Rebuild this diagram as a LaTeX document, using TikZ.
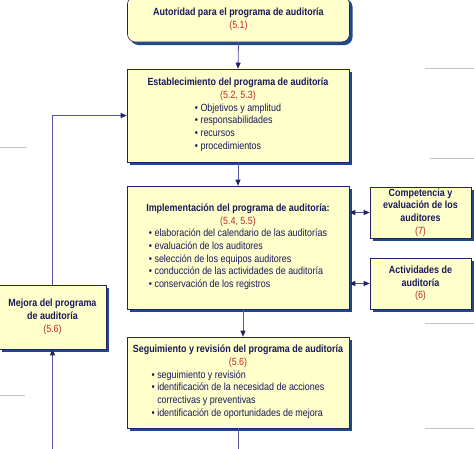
\documentclass[tikz,border=0pt]{standalone}
\usepackage{fontspec}
\setmainfont{Liberation Sans}[FakeStretch=0.86]
\usetikzlibrary{positioning,arrows.meta,shadows}

\definecolor{boxfill}{RGB}{255,255,204}
\definecolor{boxline}{RGB}{35,35,100}
\definecolor{shadowblue}{RGB}{30,72,140}
\definecolor{textnavy}{RGB}{25,25,90}
\definecolor{numred}{RGB}{185,45,35}
\definecolor{linkblue}{RGB}{85,85,165}
\definecolor{straygray}{RGB}{195,195,208}

\tikzset{
  block/.style={draw=boxline, fill=boxfill, line width=0.6pt, inner sep=0pt,
    drop shadow={shadow xshift=3pt, shadow yshift=-3pt, fill=shadowblue, opacity=1},
    align=center, text=textnavy, font=\fontsize{10.4}{12.7}\selectfont},
  link/.style={draw=linkblue, line width=0.8pt},
  tip/.style={-{Triangle[length=6pt,width=5pt,color=boxline]}},
  twotip/.style={{Triangle[length=6pt,width=5pt,color=boxline]}-{Triangle[length=6pt,width=5pt,color=boxline]}},
  stray/.style={draw=straygray, line width=0.6pt}
}
\newcommand{\num}[1]{\textcolor{numred}{(#1)}}

\begin{document}
\begin{tikzpicture}[x=1pt,y=-1pt]
  \useasboundingbox (0,0) rectangle (474,448);

  % Faint lines at the borders
  \foreach \xa/\xb/\yy in {425/474/68, 430/474/158, 0/27/147, 0/25/395, 425/474/323, 425/474/428} {
      \draw[stray] (\xa,\yy) -- (\xb,\yy);
  }

  % Main column
  \node[block, rounded corners=8pt, minimum width=222pt, minimum height=46pt] (aut) at (238.5,19)
    {\textbf{Autoridad para el programa de auditoría}\\ \num{5.1}};
  \node[block, minimum width=222pt, minimum height=93pt] (est) at (238,115.5)
    {\textbf{Establecimiento del programa de auditoría}\\ \num{5.2, 5.3}\\
     \begin{tabular}[t]{@{}l@{}}
       \textbullet~Objetivos y amplitud\\
       \textbullet~responsabilidades\\
       \textbullet~recursos\\
       \textbullet~procedimientos
     \end{tabular}};
  \node[block, minimum width=222pt, minimum height=123pt] (imp) at (238,247.5)
    {\textbf{Implementación del programa de auditoría:}\\ \num{5.4, 5.5}\\
     \begin{tabular}[t]{@{}l@{}}
       \textbullet~elaboración del calendario de las auditorías\\
       \textbullet~evaluación de los auditores\\
       \textbullet~selección de los equipos auditores\\
       \textbullet~conducción de las actividades de auditoría\\
       \textbullet~conservación de los registros
     \end{tabular}};
  \node[block, minimum width=222pt, minimum height=91pt] (seg) at (238,382.5)
    {\textbf{Seguimiento y revisión del programa de auditoría}\\ \num{5.6}\\
     \begin{tabular}[t]{@{}l@{}}
       \textbullet~seguimiento y revisión\\
       \textbullet~identificación de la necesidad de acciones\\
       \phantom{\textbullet~}correctivas y preventivas\\
       \textbullet~identificación de oportunidades de mejora
     \end{tabular}};

  % Side boxes
  \node[block, minimum width=101pt, minimum height=51pt] (comp) at (420.5,212.5)
    {\textbf{Competencia y}\\ \textbf{evaluación de los}\\ \textbf{auditores}\\ \num{7}};
  \node[block, minimum width=101pt, minimum height=51pt] (act) at (420.5,283.5)
    {\textbf{Actividades de}\\ \textbf{auditoría}\\ \num{6}};
  \node[block, minimum width=107pt, minimum height=64pt] (mej) at (52.5,317)
    {\textbf{Mejora del programa}\\ \textbf{de auditoría}\\ \num{5.6}};

  % Loop ends below the page
  \coordinate (segend) at (238,458);
  \coordinate (loopend) at (52.5,458);

  % Connectors
  \draw[link,tip] (aut.south) -- (est.north);
  \draw[link,tip] (est.south) -- (imp.north);
  \draw[link,tip] ([xshift=5pt]imp.south) -- ([xshift=5pt]imp.south |- seg.north);
  \draw[link] (seg.south) -- (segend);
  \draw[link,tip] (loopend) -- (mej.south);
  \draw[link,tip] (mej.north) |- (est.west);
  \draw[link,twotip] (comp.west -| imp.east) -- (comp.west);
  \draw[link,twotip] (act.west -| imp.east) -- (act.west);
\end{tikzpicture}
\end{document}
